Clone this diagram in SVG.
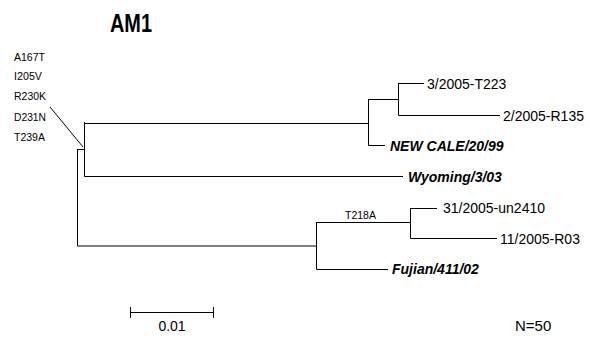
<svg xmlns="http://www.w3.org/2000/svg" width="590" height="340" viewBox="0 0 590 340">
<style>
text{font-family:"Liberation Sans",Arial,sans-serif;fill:#000}
.leaf{font-size:14px}
.ref{font-size:14px;font-weight:bold;font-style:italic}
.mut{font-size:11px}
.br{stroke:#000;stroke-width:1;fill:none}
</style>
<rect width="590" height="340" fill="#fff"/>
<text id="title" x="110" y="32" font-size="25" font-weight="bold" textLength="42" lengthAdjust="spacingAndGlyphs">AM1</text>
<g id="mutations">
<text class="mut" x="14" y="61" textLength="31" lengthAdjust="spacingAndGlyphs">A167T</text>
<text class="mut" x="14" y="80" textLength="28" lengthAdjust="spacingAndGlyphs">I205V</text>
<text class="mut" x="14" y="100" textLength="32" lengthAdjust="spacingAndGlyphs">R230K</text>
<text class="mut" x="14" y="121" textLength="32" lengthAdjust="spacingAndGlyphs">D231N</text>
<text class="mut" x="14" y="141" textLength="31" lengthAdjust="spacingAndGlyphs">T239A</text>
</g>
<g id="connectors" class="br">
<path d="M77.5,149.5H84.5"/>
<path d="M77.5,149V246H316.5"/>
<path d="M84.5,122V176.5"/>
<path d="M84.5,123.5H368.5"/>
<path d="M84.5,176.5H403"/>
<path d="M368.5,99V145.5"/>
<path d="M368.5,99.5H398.5"/>
<path d="M368.5,145.5H385"/>
<path d="M398.5,83V115.5"/>
<path d="M398.5,83.5H424"/>
<path d="M398.5,115.5H500"/>
<path d="M316.5,222V269.5"/>
<path d="M316.5,222.5H410.5"/>
<path d="M316.5,269.5H388"/>
<path d="M410.5,208V238.5"/>
<path d="M410.5,208.5H437"/>
<path d="M410.5,238.5H497"/>
<path d="M50,107L83,147"/>
</g>
<g id="leaf-T223"><text class="leaf" x="427" y="89">3/2005-T223</text></g>
<g id="leaf-R135"><text class="leaf" x="503" y="121">2/2005-R135</text></g>
<g id="leaf-NEWCALE"><text class="ref" x="390" y="151">NEW CALE/20/99</text></g>
<g id="leaf-Wyoming"><text class="ref" x="408" y="182">Wyoming/3/03</text></g>
<g id="label-T218A"><text class="mut" x="345" y="219" textLength="31" lengthAdjust="spacingAndGlyphs">T218A</text></g>
<g id="leaf-un2410"><text class="leaf" x="443" y="213">31/2005-un2410</text></g>
<g id="leaf-R03"><text class="leaf" x="500" y="244">11/2005-R03</text></g>
<g id="leaf-Fujian"><text class="ref" x="392" y="274">Fujian/411/02</text></g>
<g id="scalebar">
<path class="br" d="M130.5,312.5H213.5M130.5,307V318M213.5,307V318"/>
<text x="172" y="331" font-size="14" text-anchor="middle">0.01</text>
</g>
<text id="count" x="515" y="331" font-size="15">N=50</text>
</svg>
